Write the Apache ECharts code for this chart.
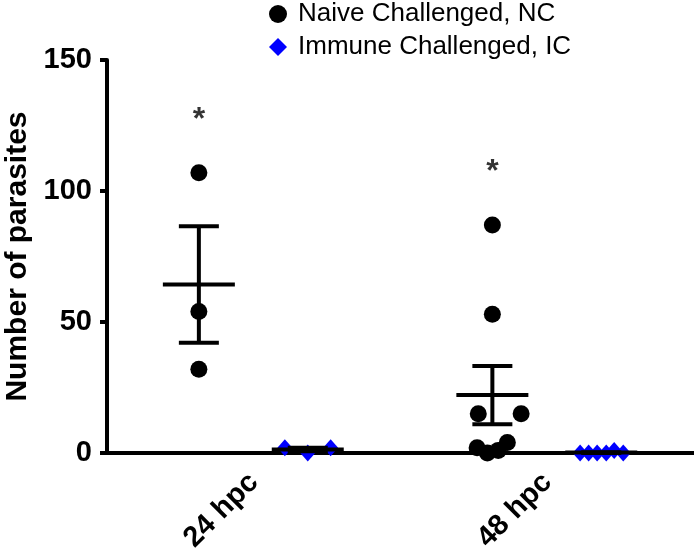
<!DOCTYPE html>
<html>
<head>
<meta charset="utf-8">
<script src="https://cdn.jsdelivr.net/npm/echarts@6/dist/echarts.min.js"></script>
<style>
  html, body { margin: 0; padding: 0; background: #fff; }
  #main { width: 694px; height: 551px; }
</style>
</head>
<body>
<div id="main"></div>
<script>
// data
var groups = ['24 hpc', '48 hpc'];
var ncValues = [
  [107, 54, 32],
  [87, 53, 15, 15, 2, 0, 1, 4]
];
var icValues = [
  [2, 0, 2],
  [0, 0, 0, 0, 1, 0]
];
// horizontal spread of the dots inside each group (fraction of a category)
var ncJitter = [
  [-0.187, -0.187, -0.187],
  [-0.187, -0.187, -0.235, -0.089, -0.239, -0.204, -0.167, -0.136]
];
var icJitter = [
  [0.106, 0.184, 0.262],
  [0.112, 0.141, 0.170, 0.201, 0.228, 0.259]
];
var starLevels = [127, 107]; // height of the "*" over the NC groups
var ncOffset = -0.187, icOffset = 0.184;

var FONT = '"Liberation Sans", Arial, Helvetica, sans-serif';

function meanSem(arr) {
  var n = arr.length, m = 0;
  arr.forEach(function (v) { m += v; });
  m /= n;
  var ss = 0;
  arr.forEach(function (v) { ss += (v - m) * (v - m); });
  var sem = n > 1 ? Math.sqrt(ss / (n - 1)) / Math.sqrt(n) : 0;
  return [m, m - sem, m + sem];
}

function points(vals, jit) {
  var out = [];
  vals.forEach(function (g, gi) {
    g.forEach(function (v, i) { out.push([gi + jit[gi][i], v]); });
  });
  return out;
}

var errData = [];
groups.forEach(function (g, gi) {
  var a = meanSem(ncValues[gi]);
  errData.push([gi + ncOffset, a[0], a[1], a[2]]);
  var b = meanSem(icValues[gi]);
  errData.push([gi + icOffset, b[0], b[1], b[2]]);
});

var chart = echarts.init(document.getElementById('main'));
var option = {
  animation: false,
  textStyle: { fontFamily: FONT },
  legend: {
    orient: 'vertical',
    left: 269,
    top: 1,
    padding: 0,
    itemWidth: 18,
    itemHeight: 18,
    itemGap: 7,
    textStyle: { fontSize: 26, color: '#000', fontFamily: FONT, padding: [0, 0, 0, 6] },
    data: [
      { name: 'Naive Challenged, NC', icon: 'circle' },
      { name: 'Immune Challenged, IC', icon: 'diamond' }
    ]
  },
  grid: { left: 107, right: 0, top: 60, bottom: 98, containLabel: false, outerBoundsMode: 'none' },
  xAxis: [
    {
      type: 'category',
      data: groups,
      boundaryGap: true,
      axisLine: { onZero: false, lineStyle: { color: '#000', width: 4 } },
      axisTick: { alignWithLabel: true, length: 8, lineStyle: { color: '#000', width: 4 } },
      axisLabel: { rotate: 45, margin: 25, color: '#000', fontSize: 29, fontWeight: 'bold', fontFamily: FONT },
      splitLine: { show: false }
    },
    { type: 'value', min: -0.5, max: 1.5, show: false }
  ],
  yAxis: {
    type: 'value',
    min: 0,
    max: 150,
    interval: 50,
    name: 'Number of parasites',
    nameLocation: 'middle',
    nameGap: 74,
    nameTextStyle: { fontSize: 30, fontWeight: 'bold', color: '#000', fontFamily: FONT },
    axisLine: { show: true, onZero: false, lineStyle: { color: '#000', width: 4 } },
    axisTick: { show: true, length: 7, lineStyle: { color: '#000', width: 4 } },
    axisLabel: { margin: 15, color: '#000', fontSize: 29, fontWeight: 'bold', fontFamily: FONT },
    splitLine: { show: false }
  },
  series: [
    {
      name: 'Naive Challenged, NC',
      type: 'scatter',
      xAxisIndex: 1,
      symbol: 'circle',
      symbolSize: 17,
      itemStyle: { color: '#000', opacity: 1 },
      data: points(ncValues, ncJitter),
      z: 3
    },
    {
      name: 'Immune Challenged, IC',
      type: 'scatter',
      xAxisIndex: 1,
      symbol: 'diamond',
      symbolSize: [15, 17],
      itemStyle: { color: '#0000ff', opacity: 1 },
      data: points(icValues, icJitter),
      z: 3
    },
    {
      type: 'custom',
      xAxisIndex: 1,
      encode: { x: 0, y: [1, 2, 3] },
      z: 4,
      renderItem: function (params, api) {
        var x = api.value(0);
        var c = api.coord([x, api.value(1)]);
        var lo = api.coord([x, api.value(2)]);
        var hi = api.coord([x, api.value(3)]);
        var st = { stroke: '#000', lineWidth: 4 };
        return {
          type: 'group',
          children: [
            { type: 'line', shape: { x1: c[0] - 36, y1: c[1], x2: c[0] + 36, y2: c[1] }, style: st },
            { type: 'line', shape: { x1: c[0], y1: lo[1], x2: c[0], y2: hi[1] }, style: st },
            { type: 'line', shape: { x1: c[0] - 20, y1: lo[1], x2: c[0] + 20, y2: lo[1] }, style: st },
            { type: 'line', shape: { x1: c[0] - 20, y1: hi[1], x2: c[0] + 20, y2: hi[1] }, style: st }
          ]
        };
      },
      data: errData
    },
    {
      type: 'scatter',
      xAxisIndex: 1,
      symbolSize: 0,
      label: {
        show: true,
        position: 'inside',
        formatter: '*',
        color: '#000',
        fontSize: 32,
        fontWeight: 'bold',
        fontFamily: FONT
      },
      data: starLevels.map(function (v, gi) { return [gi + ncOffset, v]; }),
      z: 5
    }
  ]
};
chart.setOption(option);
</script>
</body>
</html>
